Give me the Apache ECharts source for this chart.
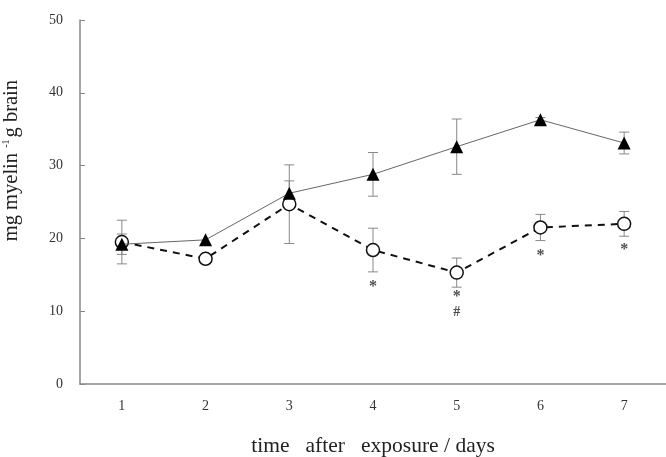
<!DOCTYPE html>
<html><head><meta charset="utf-8">
<script src="https://cdn.jsdelivr.net/npm/echarts@6/dist/echarts.min.js"></script>
<style>html,body{margin:0;padding:0;background:#fff}#c{width:666px;height:457px}</style>
</head><body><div id="c"></div>
<script>
var days = ['1', '2', '3', '4', '5', '6', '7'];
var triMean = [19.2, 19.8, 26.2, 28.8, 32.6, 36.3, 33.1];
var triErr  = [1.4, 0, 1.7, 3.0, 3.8, 0.3, 1.5];
var circMean = [19.5, 17.2, 24.7, 18.4, 15.3, 21.5, 22.0];
var circErr  = [3.0, 0, 5.4, 3.0, 2.0, 1.8, 1.7];
var starDays = ['4', '5', '6', '7'];
var starY = [13.3, 12.0, 17.6, 18.4];
var hashDays = ['5'];
var hashY = [9.9];
var yTicks = [0, 10, 20, 30, 40, 50];

var serif = '"Liberation Serif","DejaVu Serif",serif';
function pts(xs, ys){ return xs.map(function(x,i){ return [x, ys[i]]; }); }
function errData(xs, m, e){ return xs.map(function(x,i){ return [x, m[i]-e[i], m[i]+e[i]]; }); }
function errRender(params, api){
  var x = api.value(0), lo = api.value(1), hi = api.value(2);
  if (hi - lo < 0.01) return null;
  var p1 = api.coord([x, hi]), p2 = api.coord([x, lo]);
  var w = 5, st = {stroke:'#888', lineWidth:1};
  return {type:'group', children:[
    {type:'line', shape:{x1:p1[0],y1:p1[1],x2:p2[0],y2:p2[1]}, style:st},
    {type:'line', shape:{x1:p1[0]-w,y1:p1[1],x2:p1[0]+w,y2:p1[1]}, style:st},
    {type:'line', shape:{x1:p2[0]-w,y1:p2[1],x2:p2[0]+w,y2:p2[1]}, style:st}
  ]};
}
var chart = echarts.init(document.getElementById('c'));
chart.setOption({
  animation:false,
  backgroundColor:'#fff',
  grid:{left:80, right:0, top:20, bottom:73, containLabel:false, outerBoundsMode:'none'},
  xAxis:{type:'category', data:days, boundaryGap:true,
    axisLine:{lineStyle:{color:'#888', width:1.5}},
    axisTick:{inside:true, alignWithLabel:true, length:5, lineStyle:{color:'#888'}},
    splitLine:{show:false},
    axisLabel:{margin:15, fontFamily:serif, fontSize:14, color:'#333'},
    name:'time   after   exposure / days', nameLocation:'middle', nameGap:51,
    nameTextStyle:{fontFamily:serif, fontSize:21.5, color:'#222'}
  },
  yAxis:{type:'value', min:yTicks[0], max:yTicks[yTicks.length-1], interval:10,
    axisLine:{show:true, lineStyle:{color:'#888', width:1.5}},
    axisTick:{show:true, inside:true, length:5, lineStyle:{color:'#888'}},
    splitLine:{show:false},
    axisLabel:{margin:17, fontFamily:serif, fontSize:14, color:'#333'}
  },
  graphic:[{type:'text', left:1, top:80, rotation:Math.PI/2,
    style:{text:'mg myelin {sup|-1}g brain', font:'20.5px ' + serif, fill:'#222',
      rich:{sup:{fontSize:10, fontFamily:serif, fill:'#222', verticalAlign:'top', padding:[0,2,10,0]}}}}],
  series:[
    {type:'custom', renderItem:errRender, data:errData(days, circMean, circErr), z:1},
    {type:'custom', renderItem:errRender, data:errData(days, triMean, triErr), z:1},
    {type:'line', data:pts(days, circMean), symbol:'circle', symbolSize:13,
      lineStyle:{color:'#111', width:2, type:[7,6]},
      itemStyle:{color:'#fff', borderColor:'#111', borderWidth:1.5}, z:3},
    {type:'line', data:pts(days, triMean), symbol:'triangle', symbolSize:13,
      lineStyle:{color:'#666', width:1},
      itemStyle:{color:'#000', borderColor:'#000', borderWidth:0}, z:4},
    {type:'scatter', data:pts(starDays, starY), symbolSize:0,
      label:{show:true, position:'inside', formatter:'*', fontFamily:serif, fontSize:16, fontWeight:'bold', color:'#222'}, z:5},
    {type:'scatter', data:pts(hashDays, hashY), symbolSize:0,
      label:{show:true, position:'inside', formatter:'#', fontFamily:serif, fontSize:14, fontWeight:'bold', color:'#222'}, z:5}
  ]
});
</script></body></html>
